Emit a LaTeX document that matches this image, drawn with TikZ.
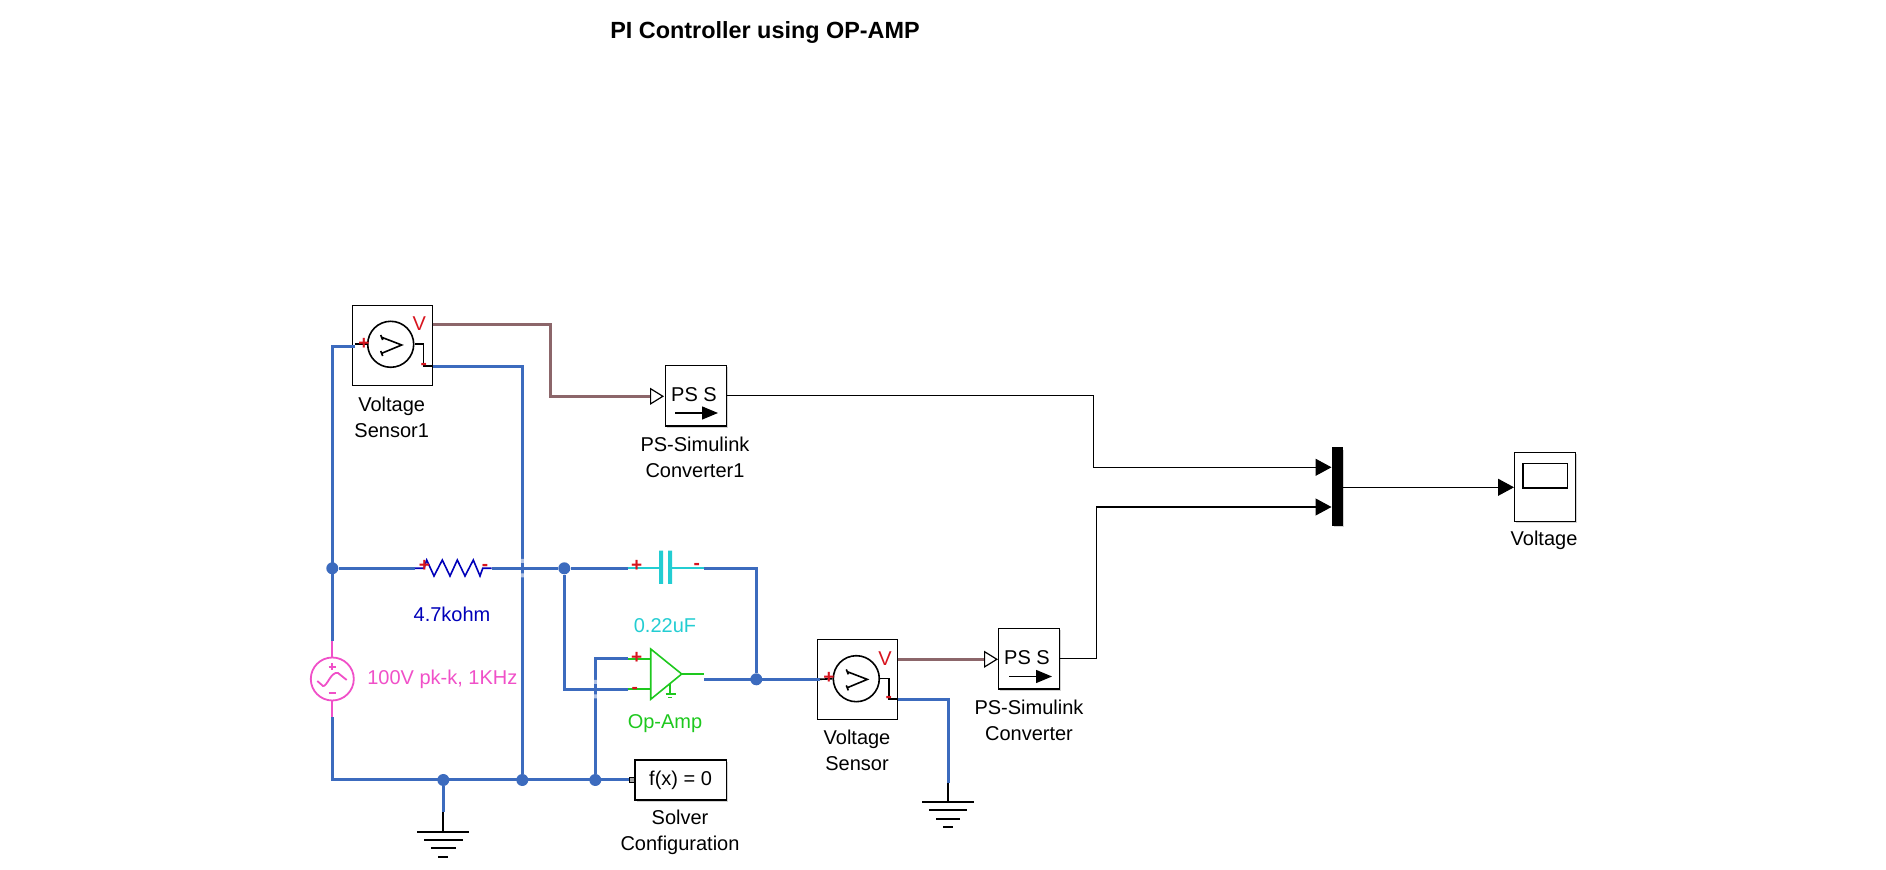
\documentclass[tikz,border=0pt]{standalone}
\usepackage{fontspec}
\setmainfont{Liberation Sans}
\usepackage{xcolor}
\usetikzlibrary{arrows.meta,shadows}

\definecolor{wireblue}{RGB}{60,107,190}
\definecolor{sigbrown}{RGB}{140,102,106}
\definecolor{rblue}{RGB}{0,0,185}
\definecolor{ccyan}{RGB}{35,205,210}
\definecolor{ampgreen}{RGB}{30,200,30}
\definecolor{srcpink}{RGB}{240,80,200}
\definecolor{polred}{RGB}{215,20,30}

\tikzset{
  wire/.style={color=wireblue,line width=1.5pt},
  sig/.style={color=sigbrown,line width=1.5pt,-{Triangle[open,fill=white,color=black,length=7pt,width=8.5pt,line width=.6pt]}},
  line/.style={line width=.55pt},
  tip/.style={line width=.55pt,-{Triangle[length=8pt,width=8.5pt]}},
  junc/.style={circle,fill=wireblue,inner sep=0pt,minimum size=6pt},
  sensor/.style={draw,line width=.6pt,inner sep=0pt,minimum width=40.2pt,minimum height=40pt},
  conv/.style={draw,line width=.7pt,fill=white,inner sep=0pt,minimum width=30.5pt,minimum height=30.3pt,
    drop shadow={shadow xshift=.8pt,shadow yshift=-.8pt,opacity=.35}},
  lbl/.style={align=center,inner sep=0pt,font=\fontsize{10}{13}\selectfont},
  pol/.style={inner sep=0pt,text=polred,font=\fontsize{9.5}{9.5}\selectfont\bfseries}
}

\begin{document}
\begin{tikzpicture}[x=.5pt,y=-.5pt]
\useasboundingbox (0,0) rectangle (1886,870);

\node[lbl,font=\fontsize{11.7}{14}\selectfont\bfseries] (title) at (765,33) {PI Controller using OP-AMP};

% blocks
\node[sensor] (senA) at (392.5,345.3) {};
\node[sensor] (senB) at (857.5,679.3) {};
\node[conv] (convA) at (695.8,395.9) {};
\node[conv] (convB) at (1029,658.7) {};
\node[conv,minimum width=45.6pt,minimum height=20.1pt] (solver) at (680.6,780.1) {\fontsize{10}{12}\selectfont f(x) = 0};
\node[conv,fill=black,minimum width=5.2pt,minimum height=38.6pt] (mux) at (1337.5,486.7) {};
\node[conv,minimum width=30.7pt,minimum height=34.5pt] (scope) at (1545,486.8) {};
\node[draw,line width=.8pt,inner sep=0pt,minimum width=22.3pt,minimum height=12.3pt] (screen) at (1545.3,476) {};

% block labels
\node[lbl] (senAlbl) at (391.7,417.5) {Voltage\\Sensor1};
\node[lbl] (senBlbl) at (857,750.8) {Voltage\\Sensor};
\node[lbl] (convAlbl) at (695,457.5) {PS-Simulink\\Converter1};
\node[lbl] (convBlbl) at (1029,720.8) {PS-Simulink\\Converter};
\node[lbl] (solverlbl) at (680,832) {Solver\\Configuration};
\node[lbl] (scopelbl) at (1544,540) {Voltage};
\node[lbl,text=rblue] (reslbl) at (452,614.3) {4.7kohm};
\node[lbl,text=ccyan] (caplbl) at (665,625.7) {0.22uF};
\node[lbl,text=ampgreen] (amplbl) at (665,723.3) {Op-Amp};
\node[lbl,text=srcpink] (srclbl) at (442.3,679) {100V pk-k, 1KHz};
\node[lbl,text=polred] (senAv) at (419.3,323.5) {V};
\node[lbl,text=polred] (senBv) at (885,658.5) {V};
\node[lbl] (convAps) at (694,394.7) {PS S};
\node[lbl] (convBps) at (1027,657.5) {PS S};

% ports and corners
\coordinate (senAp) at (355,346.7);
\coordinate (senAm) at (432.7,366.3);
\coordinate (senAo) at (432.7,325);
\coordinate (senBp) at (820,679.3);
\coordinate (senBm) at (897.7,699.3);
\coordinate (senBo) at (897.7,659.3);
\coordinate (convAin) at (664,396.3);
\coordinate (convBin) at (998,659.3);
\coordinate (muxA) at (1331.5,467.3);
\coordinate (muxB) at (1331.5,507);
\coordinate (muxO) at (1343.3,487.3);
\coordinate (scopeIn) at (1514,487.3);
\coordinate (bendA) at (550.3,360);
\coordinate (bendB) at (1093.6,430);
\coordinate (bendC) at (1096.3,580);
\coordinate (resL) at (415,568.3);
\coordinate (resR) at (491.7,568.3);
\coordinate (capL) at (627.7,568.3);
\coordinate (capR) at (704,568.3);
\coordinate (ampP) at (628.3,659);
\coordinate (ampM) at (628.3,689.3);
\coordinate (ampO) at (704.3,679.3);
\coordinate (srcT) at (332.3,640.7);
\coordinate (srcB) at (332.3,717.3);
\coordinate (corBL) at (332.3,780);
\coordinate (solverP) at (631.7,780);
\coordinate (gndA) at (443.3,812.3);
\coordinate (gndB) at (948.3,782.7);

% junctions
\node[junc] (jTL) at (332.3,568.3) {};
\node[junc] (jRes) at (564.3,568.3) {};
\node[junc] (jOut) at (756.3,679.3) {};
\node[junc] (jG) at (443.3,780) {};
\node[junc] (jS) at (522.3,780) {};
\node[junc] (jA) at (595.3,780) {};

% blue wires
\draw[wire] (senAm) -| (jS);
\fill[white,opacity=.6] (519,559) rectangle (526,563) (519,573.5) rectangle (526,577.5);
\draw[wire] (ampP) -| (jA);
\fill[white,opacity=.6] (592,680) rectangle (599,684) (592,694.5) rectangle (599,698.5);
\draw[wire] (senAp) -| (srcT);
\draw[wire] (srcB) |- (solverP);
\draw[wire] (jTL) -- (resL);
\draw[wire] (resR) -- (jRes) -- (capL);
\draw[wire] (capR) -| (jOut);
\draw[wire] (ampM) -| (jRes);
\draw[wire] (ampO) -- (senBp);
\draw[wire] (senBm) -| (gndB);
\draw[wire] (jG) -- (gndA);

% signal lines
\draw[sig] (senAo) -| (bendA) |- (convAin);
\draw[sig] (senBo) -- (convBin);
\draw[tip] (convA.east) -| (bendB) |- (muxA);
\draw[tip] (convB.east) -| (bendC) |- (muxB);
\draw[tip] (muxO) -- (scopeIn);

% sensors
\node[draw,circle,line width=.8pt,inner sep=0pt,minimum size=23pt] (senAc) at (390.7,344.3) {};
\node[draw,circle,line width=.8pt,inner sep=0pt,minimum size=23pt] (senBc) at (856.3,678.7) {};
\draw[line width=.8pt] (381.7,337.3) -- (401.7,345) -- (381.7,353.3) (380.7,335) -- (382.7,340) (380.7,351) -- (382.7,356);
\draw[line width=.8pt] (847.3,671.7) -- (867.3,679.4) -- (847.3,687.7) (846.3,669.4) -- (848.3,674.4) (846.3,685.4) -- (848.3,690.4);
\draw[line width=.8pt] (355,344.3) -- (senAc.west);
\draw[line width=.8pt] (senAc.east) -- (423.3,344.3) -- (423.3,366.3) -- (senAm);
\draw[line width=.8pt] (senBp) -- (senBc.west);
\draw[line width=.8pt] (senBc.east) -- (888.7,678.7) -- (888.7,699.3) -- (senBm);
\node[pol] (senApl) at (364,344) {+};
\node[pol] (senAmi) at (423.7,366) {-};
\node[pol] (senBpl) at (829,678) {+};
\node[pol] (senBmi) at (888.7,699.5) {-};

% PS-S arrows
\draw[line width=.7pt,-{Triangle[length=8pt,width=6.5pt]}] (675,413) -- (718,413);
\draw[line width=.7pt,-{Triangle[length=8pt,width=6.5pt]}] (1009,676.5) -- (1052,676.5);

% resistor
\draw[rblue,line width=.8pt] (resL) -- (424,568.3) -- (426.7,560) -- (434,576) -- (442.3,560) -- (450,576)
  -- (457.3,560) -- (465,576) -- (473.3,560) -- (480,576) -- (482.7,568.3) -- (resR);
\node[pol] (respl) at (424.3,566) {+};
\node[pol] (resmi) at (485,567.5) {-};

% capacitor
\draw[ccyan,line width=.8pt] (capL) -- (660,568.3) (670.7,568.3) -- (capR);
\fill[ccyan] (659,550.7) rectangle (663,584) (668,550.7) rectangle (672,584);
\node[pol] (cappl) at (636.7,565.7) {+};
\node[pol] (capmi) at (696.7,566.5) {-};

% op-amp
\draw[ampgreen,line width=.8pt] (650.7,649) -- (681.7,674) -- (650.7,699.3) -- cycle;
\draw[ampgreen,line width=.8pt] (ampP) -- (650.7,659) (ampM) -- (650.7,689.3) (681.7,674) -- (704.3,674);
\draw[ampgreen,line width=.8pt] (670,683) -- (670,694) (665.7,694) -- (675.7,694) (668,697.5) -- (672,697.5);
\node[pol] (amppl) at (636.7,657.7) {+};
\node[pol] (ampmi) at (634.7,690) {-};

% source
\node[draw=srcpink,circle,line width=.9pt,inner sep=0pt,minimum size=21.5pt] (src) at (332.3,679) {};
\draw[srcpink,line width=.9pt] (srcT) -- (src.north) (src.south) -- (srcB);
\draw[srcpink,line width=.9pt] (317.3,681) -- (323,686) .. controls (327,687) and (331,671) .. (338,673) -- (346.7,680);
\draw[srcpink,line width=.9pt] (328.5,666.7) -- (336,666.7) (332.3,663) -- (332.3,670.4) (328.5,692.7) -- (336,692.7);

% solver port
\draw[line width=.5pt,fill=black!35] (629,777.5) rectangle (634.5,782.5);

% grounds
\draw[line width=.85pt] (gndA) -- (443.3,831.7) (417.3,831.7) -- (469.3,831.7) (424.3,840) -- (462.7,840)
  (431,848.3) -- (455.7,848.3) (438,857) -- (448,857);
\draw[line width=.85pt] (gndB) -- (948.3,801.7) (922,801.7) -- (974,801.7) (929,810.3) -- (967,810.3)
  (936,818.7) -- (960,818.7) (943,827) -- (953,827);
\end{tikzpicture}
\end{document}
